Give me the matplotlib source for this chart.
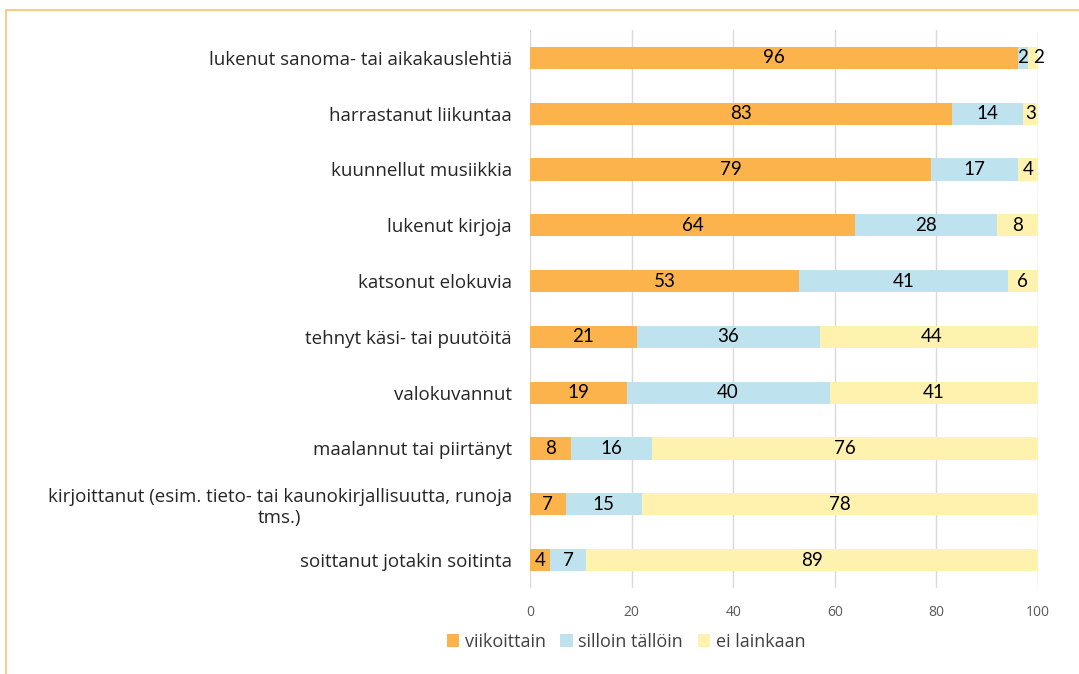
import matplotlib.pyplot as plt
from matplotlib.patches import Rectangle

plt.rcParams['font.family'] = ['Open Sans', 'DejaVu Sans']

categories = ['lukenut sanoma- tai aikakauslehtiä',
              'harrastanut liikuntaa',
              'kuunnellut musiikkia',
              'lukenut kirjoja',
              'katsonut elokuvia',
              'tehnyt käsi- tai puutöitä',
              'valokuvannut',
              'maalannut tai piirtänyt',
              'kirjoittanut (esim. tieto- tai kaunokirjallisuutta, runoja\ntms.)',
              'soittanut jotakin soitinta']
viikoittain = [96, 83, 79, 64, 53, 21, 19, 8, 7, 4]
silloin = [2, 14, 17, 28, 41, 36, 40, 16, 15, 7]
ei = [2, 3, 4, 8, 6, 44, 41, 76, 78, 89]
series = ['viikoittain', 'silloin tällöin', 'ei lainkaan']
colors = ['#FDB34B', '#BEE3EE', '#FFF2AF']

fig = plt.figure(figsize=(10.79, 6.74), dpi=100)
ax = fig.add_axes([0.4912, 0.1276, 0.4708, 0.8279])

y = list(range(len(categories)))
left = [0] * len(categories)
for i, (name, vals, c) in enumerate(zip(series, [viikoittain, silloin, ei], colors)):
    ax.barh(y, vals, left=left, height=0.4, color=c, label=name, zorder=2)
    for yi, l, v in zip(y, left, vals):
        # tiny last segment: push label outward like the original
        ha = 'left' if (i == 2 and v < 3) else 'center'
        ax.text(l + v / 2, yi, str(v), ha=ha, va='center', fontsize=13.5,
                family='Lato', color='black', zorder=3, clip_on=False)
    left = [a + b for a, b in zip(left, vals)]

ax.set_xlim(0, 100)
ax.set_ylim(len(categories) - 0.5, -0.5)
ax.set_xticks(range(0, 101, 20))
ax.set_yticks(y)
ax.set_yticklabels(categories, fontsize=13.5, color='#262626')
for lbl in ax.get_yticklabels():
    lbl.set_multialignment('center')
ax.tick_params(axis='x', length=0, pad=12, labelsize=10, labelcolor='#595959')
ax.tick_params(axis='y', length=0, pad=13)
ax.grid(axis='x', color='#D9D9D9', linewidth=1, zorder=0)
for s in ax.spines.values():
    s.set_visible(False)

fig.legend(loc='center', bbox_to_anchor=(626 / 1079, 1 - 642 / 674), ncol=3,
           frameon=False, fontsize=13, handlelength=0.7, handleheight=0.7,
           handletextpad=0.3, columnspacing=0.8, labelcolor='#404040')

fig.patches.append(Rectangle((6 / 1079, -0.1), 1.2, 1.1 - 10 / 674, transform=fig.transFigure,
                             fill=False, edgecolor='#FFC06E', linewidth=1.2, clip_on=False))

fig.savefig('out.png', dpi=100)
